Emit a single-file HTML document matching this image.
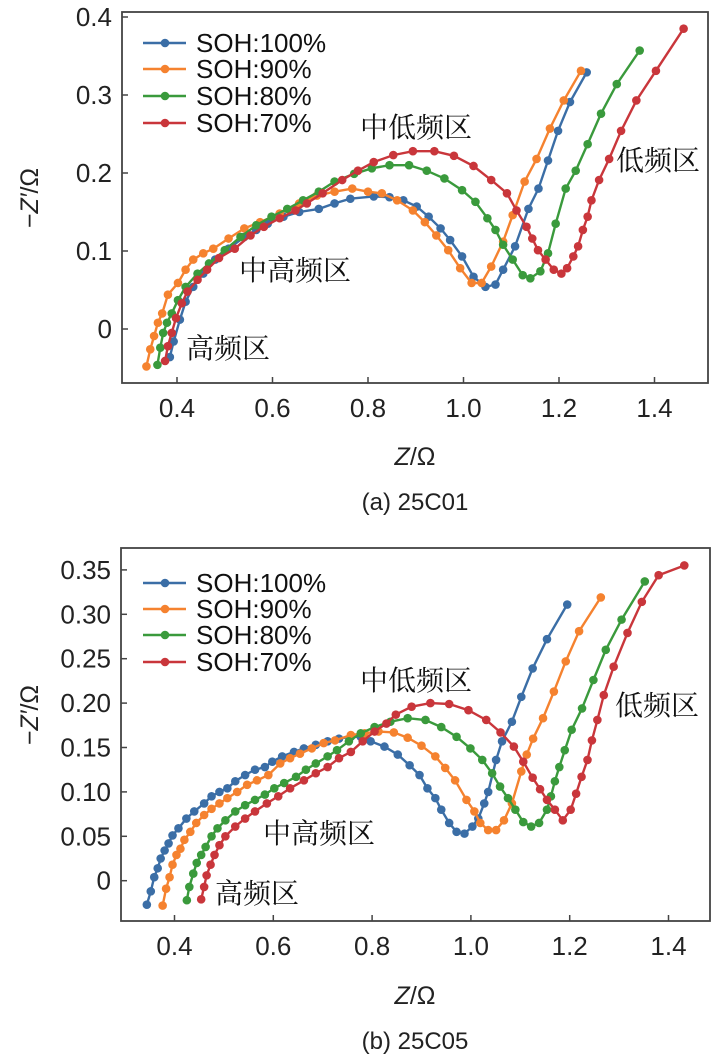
<!DOCTYPE html>
<html><head><meta charset="utf-8">
<style>
body{margin:0;background:#fff;}
svg{display:block;font-family:"Liberation Sans","Noto Sans CJK SC",sans-serif;}
.cn{font-family:"Noto Serif CJK SC","Liberation Serif",serif;}
</style></head>
<body>
<svg id="fig" width="713" height="1056" viewBox="0 0 713 1056"></svg>
<script>
const seriesNames = ["SOH:100%","SOH:90%","SOH:80%","SOH:70%"];
const colors = ["#3b6ea6","#f5822f","#3a9a3c","#c9363b"];
const xTicks = [0.4,0.6,0.8,1.0,1.2,1.4];
const xTickLabels = ["0.4","0.6","0.8","1.0","1.2","1.4"];
const yTicksA = [0,0.1,0.2,0.3,0.4];
const yTickLabelsA = ["0","0.1","0.2","0.3","0.4"];
const yTicksB = [0,0.05,0.10,0.15,0.20,0.25,0.30,0.35];
const yTickLabelsB = ["0","0.05","0.10","0.15","0.20","0.25","0.30","0.35"];

// Chart (a) 25C01
const a100X=[0.385,0.393,0.406,0.418,0.434,0.455,0.48,0.508,0.541,0.566,0.59,0.623,0.656,0.697,0.73,0.763,0.812,0.845,0.874,0.902,0.927,0.952,0.972,0.997,1.021,1.046,1.067,1.083,1.108,1.136,1.157,1.177,1.198,1.223,1.258];
const a100Y=[-0.036,-0.016,0.012,0.035,0.054,0.071,0.089,0.103,0.118,0.127,0.135,0.144,0.15,0.154,0.161,0.167,0.170,0.169,0.165,0.157,0.144,0.129,0.114,0.093,0.067,0.054,0.057,0.076,0.106,0.154,0.18,0.216,0.254,0.291,0.329];
const a90X=[0.336,0.344,0.352,0.36,0.369,0.381,0.402,0.418,0.434,0.455,0.476,0.508,0.541,0.574,0.615,0.656,0.693,0.73,0.767,0.8,0.829,0.861,0.894,0.919,0.943,0.968,0.993,1.017,1.038,1.058,1.083,1.103,1.128,1.153,1.181,1.21,1.246];
const a90Y=[-0.048,-0.026,-0.009,0.008,0.020,0.044,0.059,0.076,0.089,0.097,0.103,0.116,0.129,0.137,0.148,0.161,0.171,0.176,0.180,0.176,0.174,0.165,0.152,0.137,0.120,0.101,0.078,0.059,0.059,0.080,0.112,0.146,0.189,0.218,0.257,0.293,0.331];
const a80X=[0.359,0.365,0.371,0.379,0.389,0.402,0.418,0.443,0.467,0.5,0.533,0.566,0.598,0.631,0.664,0.697,0.73,0.771,0.808,0.845,0.886,0.923,0.96,0.997,1.025,1.05,1.067,1.083,1.103,1.124,1.14,1.161,1.177,1.193,1.214,1.235,1.26,1.288,1.321,1.369];
const a80Y=[-0.046,-0.024,-0.005,0.008,0.020,0.037,0.054,0.071,0.084,0.101,0.118,0.133,0.144,0.154,0.165,0.176,0.189,0.199,0.206,0.210,0.210,0.203,0.193,0.178,0.163,0.142,0.127,0.108,0.089,0.069,0.065,0.074,0.097,0.135,0.180,0.203,0.237,0.276,0.314,0.357];
const a70X=[0.375,0.381,0.389,0.398,0.41,0.422,0.443,0.463,0.488,0.521,0.554,0.582,0.615,0.648,0.672,0.705,0.746,0.779,0.812,0.853,0.894,0.939,0.98,1.021,1.058,1.091,1.111,1.132,1.144,1.156,1.172,1.189,1.205,1.217,1.23,1.24,1.25,1.26,1.268,1.284,1.305,1.33,1.362,1.403,1.461];
const a70Y=[-0.041,-0.022,-0.005,0.014,0.033,0.048,0.063,0.076,0.091,0.103,0.120,0.131,0.142,0.152,0.161,0.174,0.191,0.203,0.214,0.223,0.228,0.228,0.222,0.209,0.191,0.174,0.152,0.131,0.116,0.101,0.089,0.076,0.071,0.078,0.093,0.106,0.127,0.144,0.165,0.191,0.218,0.254,0.293,0.331,0.385];

// Chart (b) 25C05
const b100X=[0.344,0.352,0.359,0.366,0.372,0.38,0.388,0.396,0.408,0.424,0.44,0.46,0.475,0.491,0.507,0.523,0.543,0.563,0.583,0.598,0.618,0.642,0.662,0.686,0.71,0.733,0.757,0.777,0.797,0.825,0.852,0.876,0.896,0.912,0.928,0.94,0.956,0.971,0.987,1.003,1.015,1.027,1.035,1.051,1.063,1.083,1.102,1.125,1.154,1.195];
const b100Y=[-0.027,-0.012,0.004,0.014,0.025,0.034,0.042,0.051,0.059,0.070,0.078,0.087,0.095,0.100,0.104,0.112,0.119,0.125,0.128,0.134,0.140,0.145,0.149,0.153,0.157,0.160,0.162,0.162,0.157,0.151,0.142,0.130,0.119,0.104,0.093,0.080,0.065,0.055,0.053,0.061,0.070,0.087,0.100,0.136,0.157,0.179,0.207,0.239,0.272,0.311];
const b90X=[0.376,0.383,0.39,0.396,0.404,0.412,0.42,0.432,0.444,0.46,0.475,0.491,0.507,0.527,0.547,0.567,0.59,0.614,0.634,0.654,0.678,0.702,0.725,0.757,0.785,0.813,0.844,0.872,0.9,0.928,0.948,0.968,0.991,1.007,1.019,1.035,1.051,1.067,1.083,1.102,1.113,1.126,1.146,1.168,1.192,1.219,1.263];
const b90Y=[-0.028,-0.009,0.004,0.018,0.029,0.036,0.046,0.055,0.065,0.074,0.081,0.087,0.093,0.100,0.108,0.113,0.119,0.132,0.138,0.143,0.149,0.155,0.158,0.164,0.166,0.168,0.167,0.161,0.152,0.140,0.127,0.113,0.091,0.078,0.065,0.057,0.057,0.068,0.087,0.123,0.142,0.160,0.183,0.213,0.247,0.281,0.319];
const b80X=[0.425,0.43,0.438,0.445,0.454,0.463,0.475,0.487,0.503,0.523,0.543,0.563,0.583,0.602,0.622,0.646,0.666,0.686,0.71,0.729,0.753,0.777,0.805,0.837,0.872,0.908,0.94,0.971,0.999,1.023,1.043,1.059,1.075,1.09,1.106,1.122,1.138,1.154,1.162,1.17,1.179,1.19,1.204,1.225,1.248,1.273,1.305,1.352];
const b80Y=[-0.022,-0.007,0.008,0.020,0.029,0.038,0.050,0.059,0.068,0.078,0.085,0.091,0.097,0.104,0.110,0.117,0.125,0.132,0.140,0.147,0.157,0.166,0.173,0.179,0.183,0.181,0.173,0.162,0.149,0.136,0.121,0.106,0.093,0.080,0.066,0.061,0.065,0.080,0.095,0.112,0.128,0.147,0.170,0.194,0.226,0.260,0.294,0.337];
const b70X=[0.454,0.46,0.465,0.473,0.481,0.491,0.503,0.523,0.543,0.563,0.587,0.61,0.634,0.662,0.686,0.71,0.733,0.757,0.781,0.805,0.829,0.848,0.88,0.918,0.956,0.995,1.031,1.06,1.087,1.106,1.125,1.14,1.154,1.17,1.186,1.202,1.213,1.224,1.236,1.245,1.256,1.269,1.289,1.317,1.346,1.38,1.432];
const b70Y=[-0.021,-0.007,0.006,0.018,0.029,0.040,0.050,0.061,0.070,0.078,0.087,0.095,0.104,0.113,0.121,0.128,0.138,0.145,0.157,0.168,0.177,0.187,0.196,0.200,0.199,0.192,0.181,0.167,0.151,0.134,0.116,0.103,0.091,0.080,0.068,0.080,0.098,0.117,0.136,0.158,0.181,0.209,0.241,0.279,0.314,0.344,0.355];

const NS="http://www.w3.org/2000/svg";
const svg=document.getElementById('fig');
function mk(tag,attrs,parent,text){const e=document.createElementNS(NS,tag);for(const k in attrs)e.setAttribute(k,attrs[k]);if(text!==undefined)e.textContent=text;(parent||svg).appendChild(e);return e;}

function drawChart(cfg){
  const g=mk('g',{});
  
  
  const sx=v=>cfg.x0+(v-0.4)*cfg.kx;
  const sy=v=>cfg.y0-v*cfg.ky;
  const frame=mk('rect',{x:cfg.L,y:cfg.T,width:cfg.R-cfg.L,height:cfg.B-cfg.T,fill:'none',stroke:'#444','stroke-width':1.8},g);
  
  
  xTicks.forEach((v,i)=>{
    const x=sx(v);
    mk('line',{x1:x,x2:x,y1:cfg.B,y2:cfg.B-6,stroke:'#444','stroke-width':1.5},g);
    const t=mk('text',{x:x,y:cfg.B+34,'font-size':26,'text-anchor':'middle',fill:'#222'},g,xTickLabels[i]);
    
    
  });
  cfg.yTicks.forEach((v,i)=>{
    const y=sy(v);
    mk('line',{x1:cfg.L,x2:cfg.L+6,y1:y,y2:y,stroke:'#444','stroke-width':1.5},g);
    const t=mk('text',{x:cfg.L-10,y:y+9,'font-size':26,'text-anchor':'end',fill:'#222'},g,cfg.yLabels[i]);
    
    
  });
  cfg.series.forEach((s,si)=>{
    const sg=mk('g',{},g);
    
    
    const pts=s[0].map((xv,i)=>sx(xv).toFixed(1)+','+sy(s[1][i]).toFixed(1)).join(' ');
    mk('polyline',{points:pts,fill:'none',stroke:colors[si],'stroke-width':2.4},sg);
    s[0].forEach((xv,i)=>{
      const c=mk('circle',{cx:sx(xv),cy:sy(s[1][i]),r:4.3,fill:colors[si]},sg);
      
      
    });
  });
  seriesNames.forEach((n,i)=>{
    const y=cfg.legY[i];
    const lg=mk('g',{},g);
    
    
    mk('line',{x1:143,x2:186,y1:y,y2:y,stroke:colors[i],'stroke-width':2.4},lg);
    mk('circle',{cx:165,cy:y,r:4.3,fill:colors[i]},lg);
    mk('text',{x:196,y:y+9,'font-size':26,fill:'#111'},lg,n);
  });
  cfg.notes.forEach(n=>{
    const t=mk('text',{x:n[1],y:n[2]+10,'font-size':28,fill:'#111',class:'cn'},g,n[0]);
    
    
  });
  const yt=mk('text',{transform:`translate(38,${cfg.ytY}) rotate(-90)`,'font-size':25,'text-anchor':'middle',fill:'#222'},g);
  
  
  mk('tspan',{},yt,'−');
  mk('tspan',{'font-style':'italic'},yt,'Z′');
  mk('tspan',{},yt,'/Ω');
  const xt=mk('text',{x:415,y:cfg.xtY,'font-size':25,'text-anchor':'middle',fill:'#222'},g);
  
  
  mk('tspan',{'font-style':'italic'},xt,'Z');
  mk('tspan',{},xt,'/Ω');
  const cap=mk('text',{x:415,y:cfg.capY,'font-size':24,'text-anchor':'middle',fill:'#222'},g,cfg.caption);
  
  
}

drawChart({name:'chart-25c01',L:122,R:708,T:12,B:383,x0:177,kx:477.5,y0:329,ky:780,
  yTicks:yTicksA,yLabels:yTickLabelsA,
  series:[[a100X,a100Y],[a90X,a90Y],[a80X,a80Y],[a70X,a70Y]],
  legY:[43,69,96,123],
  notes:[['中低频区',360,127],['低频区',616,160],['中高频区',239,270],['高频区',186,348]],
  ytY:198,xtY:465,capY:510,caption:'(a) 25C01'});
drawChart({name:'chart-25c05',L:121,R:710,T:548,B:921,x0:174.5,kx:494,y0:880.7,ky:888,
  yTicks:yTicksB,yLabels:yTickLabelsB,
  series:[[b100X,b100Y],[b90X,b90Y],[b80X,b80Y],[b70X,b70Y]],
  legY:[583,609,635,662],
  notes:[['中低频区',360,680],['低频区',615,705],['中高频区',263,833],['高频区',215,893]],
  ytY:715,xtY:1004,capY:1049,caption:'(b) 25C05'});
</script>
</body></html>
